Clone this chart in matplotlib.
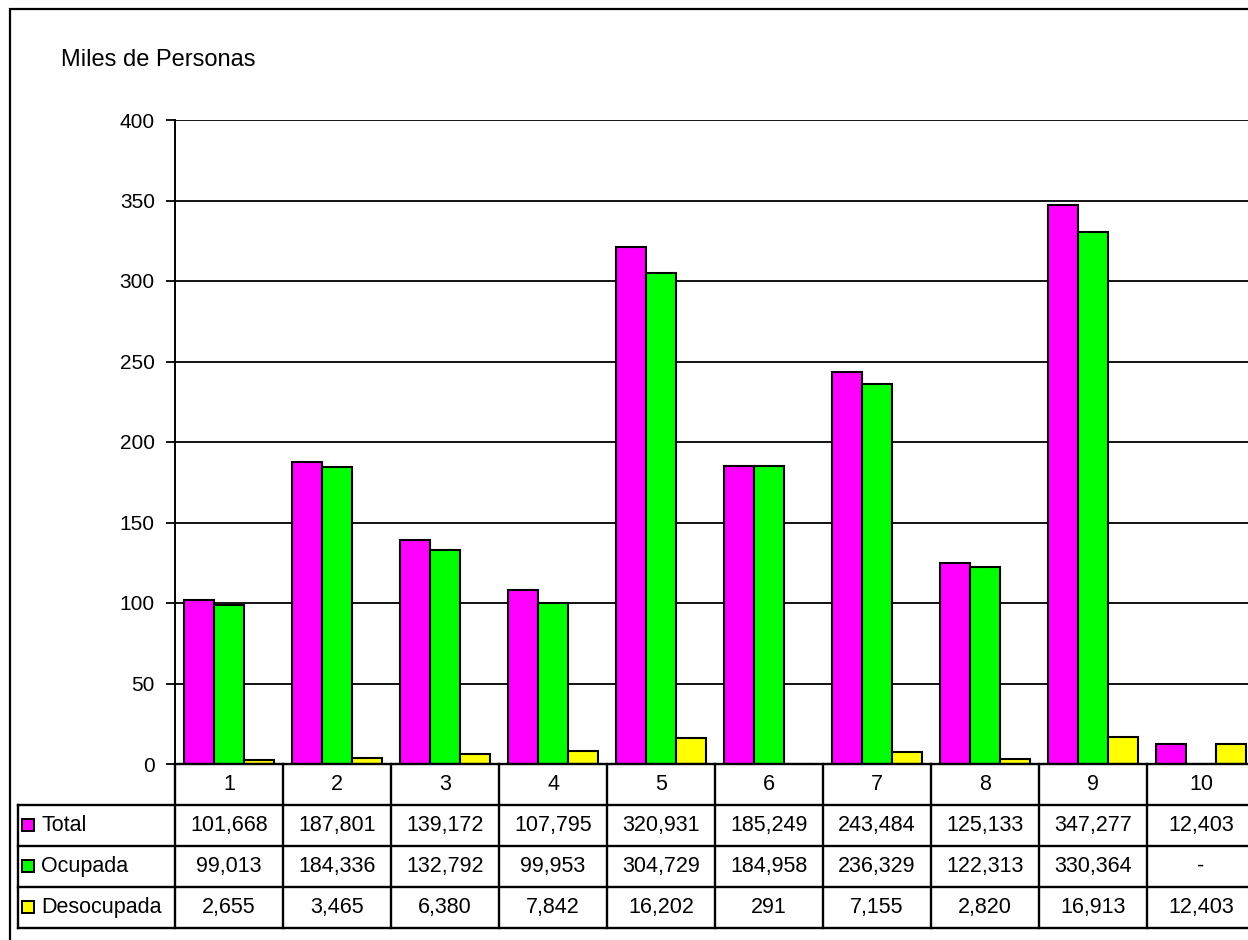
import numpy as np
import matplotlib.pyplot as plt
from matplotlib.patches import Rectangle

plt.rcParams['font.family'] = ['Liberation Sans', 'DejaVu Sans']

categorias = ['1', '2', '3', '4', '5', '6', '7', '8', '9', '10']
total = [101.668, 187.801, 139.172, 107.795, 320.931, 185.249, 243.484, 125.133, 347.277, 12.403]
ocupada = [99.013, 184.336, 132.792, 99.953, 304.729, 184.958, 236.329, 122.313, 330.364, 0.0]
desocupada = [2.655, 3.465, 6.380, 7.842, 16.202, 0.291, 7.155, 2.820, 16.913, 12.403]

txt_total = ['101,668', '187,801', '139,172', '107,795', '320,931', '185,249', '243,484', '125,133', '347,277', '12,403']
txt_ocupada = ['99,013', '184,336', '132,792', '99,953', '304,729', '184,958', '236,329', '122,313', '330,364', '-']
txt_desocupada = ['2,655', '3,465', '6,380', '7,842', '16,202', '291', '7,155', '2,820', '16,913', '12,403']

series = ['Total', 'Ocupada', 'Desocupada']
colores = ['#FF00FF', '#00FF00', '#FFFF00']

W, H = 1248, 940
fig = plt.figure(figsize=(W / 100, H / 100), dpi=100)
fs = 15.5


def fx(px):
    return px / W


def fy(py):
    return 1 - py / H


# marco exterior
fig.patches.append(Rectangle((fx(10), fy(1000)), fx(1300), fy(9) - fy(1000),
                             transform=fig.transFigure, fill=False, lw=1.6, ec='black'))

# grafico de barras
left, right, top, bottom = 175, 1255, 120, 764
ax = fig.add_axes([fx(left), fy(bottom), fx(right - left), fy(top) - fy(bottom)])
x = np.arange(len(categorias))
w = 0.28
for i, (vals, col) in enumerate(zip([total, ocupada, desocupada], colores)):
    ax.bar(x + (i - 1) * w, vals, w, color=col, edgecolor='black', lw=1.5, zorder=3)

ax.set_xlim(-0.5, len(categorias) - 0.5)
ax.set_ylim(0, 400)
ax.set_yticks(np.arange(0, 401, 50))
ax.set_xticks([])
ax.grid(axis='y', color='black', lw=1.3, zorder=0)
for s in ['top', 'right', 'bottom']:
    ax.spines[s].set_visible(False)
ax.spines['left'].set_linewidth(1.4)
ax.tick_params(axis='y', length=6.5, width=1.3, pad=8, labelsize=15)
fig.text(fx(61), fy(60), 'Miles de Personas', fontsize=17, va='center', ha='left')

# tabla de datos
row_h = 41
tab = fig.add_axes([fx(left), fy(bottom + 4 * row_h), fx(right - left), fy(bottom) - fy(bottom + 4 * row_h)])
tab.set_xlim(-0.5, len(categorias) - 0.5)
tab.set_ylim(4, 0)
tab.axis('off')

# columna de la leyenda en unidades de categoria
cat_px = (right - left) / len(categorias)
x_leg = -0.5 - (left - 18) / cat_px
kw = dict(color='black', lw=1.7, clip_on=False)
tab.plot([-0.5, 9.5], [0, 0], **kw)
for r in [1, 2, 3, 4]:
    tab.plot([x_leg, 9.5], [r, r], **kw)
tab.plot([x_leg, x_leg], [1, 4], **kw)
for b in np.arange(-0.5, 10, 1):
    tab.plot([b, b], [0, 4], **kw)

for j, c in enumerate(categorias):
    tab.text(j, 0.5, c, ha='center', va='center', fontsize=fs)
for r, (nombre, col, txts) in enumerate(zip(series, colores, [txt_total, txt_ocupada, txt_desocupada]), start=1):
    sq = 12 / cat_px
    tab.add_patch(Rectangle((x_leg + 4 / cat_px, r + 0.5 - 0.15), sq, 0.29,
                            fc=col, ec='black', lw=1.4, clip_on=False))
    tab.text(x_leg + 23 / cat_px, r + 0.5, nombre, ha='left', va='center', fontsize=fs)
    for j, t in enumerate(txts):
        tab.text(j, r + 0.5, t, ha='center', va='center', fontsize=fs)

fig.savefig('out.png', dpi=100)
